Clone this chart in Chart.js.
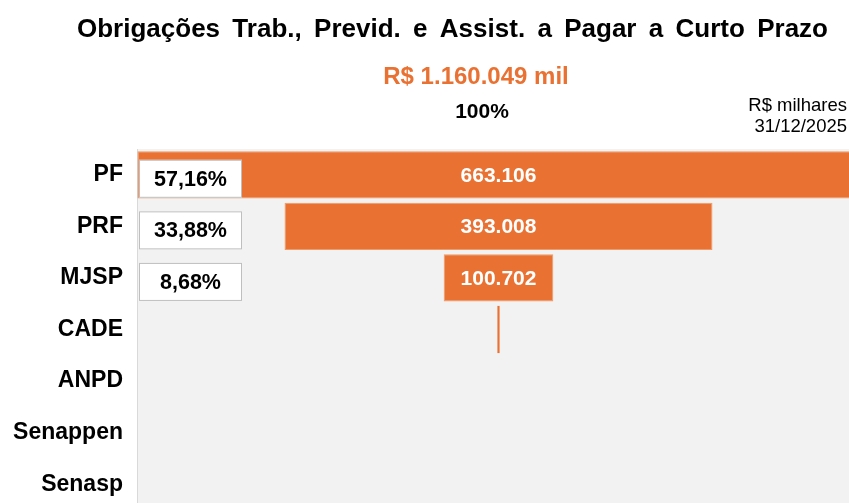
<!DOCTYPE html>
<html>
<head>
<meta charset="utf-8">
<script src="https://cdn.jsdelivr.net/npm/chart.js@4"></script>
<style>
  html, body { margin: 0; padding: 0; background: #fff; overflow: hidden; }
</style>
</head>
<body>
<canvas id="chart" width="849" height="510"></canvas>
<script>
const categories = ['PF', 'PRF', 'MJSP', 'CADE', 'ANPD', 'Senappen', 'Senasp'];
const values = [663106, 393008, 100702, 2000, 0, 0, 0];
const percentLabels = ['57,16%', '33,88%', '8,68%', '', '', '', ''];
const totalValue = 1160049;
const titleText = 'Obrigações Trab., Previd. e Assist. a Pagar a Curto Prazo';
const unitText = 'R$ milhares';
const dateText = '31/12/2025';

const FONT = "'Liberation Sans', Arial, sans-serif";
const ORANGE = '#e97132';

function fmt(n) {
  return String(n).replace(/\B(?=(\d{3})+(?!\d))/g, '.');
}

// centred (funnel) bars: each one runs from -v/2 to +v/2
const floating = values.map(v => [-v / 2, v / 2]);

// title is spread out word by word over a fixed width, like the original
function spreadText(ctx, text, x, y, width) {
  const words = text.split(' ');
  const widths = words.map(w => ctx.measureText(w).width);
  const used = widths.reduce((s, w) => s + w, 0);
  const gap = (width - used) / (words.length - 1);
  let cx = x;
  ctx.textAlign = 'left';
  words.forEach((w, i) => {
    ctx.fillText(w, cx, y);
    cx += widths[i] + gap;
  });
}

const decor = {
  id: 'decor',
  beforeDraw(chart) {
    const { ctx, chartArea: a } = chart;
    ctx.save();
    ctx.fillStyle = '#f2f2f2';
    ctx.fillRect(a.left, a.top, a.right - a.left, a.bottom - a.top);
    ctx.restore();
  },
  afterDatasetsDraw(chart) {
    const { ctx, chartArea: a } = chart;
    const meta = chart.getDatasetMeta(0);
    ctx.save();
    meta.data.forEach((el, i) => {
      if (!percentLabels[i]) return;
      // value in the middle of the bar
      ctx.fillStyle = '#fff';
      ctx.font = 'bold 21px ' + FONT;
      ctx.textAlign = 'center';
      ctx.textBaseline = 'middle';
      ctx.fillText(fmt(values[i]), (el.x + el.base) / 2, el.y + 1);
      // percentage box at the left
      const bx = a.left + 2, by = el.y - 15, bw = 103, bh = 38;
      ctx.fillStyle = '#fff';
      ctx.fillRect(bx, by, bw, bh);
      ctx.strokeStyle = '#bfbfbf';
      ctx.lineWidth = 1;
      ctx.strokeRect(bx + 0.5, by + 0.5, bw - 1, bh - 1);
      ctx.fillStyle = '#000';
      ctx.font = 'bold 21.5px ' + FONT;
      ctx.fillText(percentLabels[i], bx + bw / 2, by + bh / 2 + 1);
    });
    ctx.restore();
  },
  afterDraw(chart) {
    const { ctx } = chart;
    ctx.save();
    ctx.textBaseline = 'middle';
    ctx.fillStyle = '#000';
    ctx.font = 'bold 26px ' + FONT;
    spreadText(ctx, titleText, 77, 30, 751);
    ctx.textAlign = 'center';
    ctx.fillStyle = ORANGE;
    ctx.font = 'bold 24px ' + FONT;
    ctx.fillText('R$ ' + fmt(totalValue) + ' mil', 476, 77);
    ctx.fillStyle = '#000';
    ctx.font = 'bold 21px ' + FONT;
    ctx.fillText('100%', 482, 112);
    ctx.textAlign = 'right';
    ctx.font = '18.5px ' + FONT;
    ctx.fillText(unitText, 847, 106);
    ctx.fillText(dateText, 847, 127);
    ctx.restore();
  }
};

const ctx = document.getElementById('chart').getContext('2d');
const myChart = new Chart(ctx, {
  type: 'bar',
  data: {
    labels: categories,
    datasets: [{
      data: floating,
      backgroundColor: ORANGE,
      borderColor: '#f09a68',
      borderWidth: c => (values[c.dataIndex] < 10000 ? 0 : 1),
      borderSkipped: false,
      barPercentage: 0.915,
      categoryPercentage: 1
    }]
  },
  options: {
    indexAxis: 'y',
    responsive: false,
    animation: false,
    layout: { padding: { top: 149, right: 0, bottom: 0, left: 0 } },
    plugins: {
      legend: { display: false },
      tooltip: { enabled: false }
    },
    scales: {
      x: {
        display: false,
        min: -331965,
        max: 321866
      },
      y: {
        grid: { color: 'transparent', drawTicks: false },
        border: { display: true, color: '#d9d9d9', width: 1 },
        ticks: {
          color: '#000',
          padding: 14,
          font: { family: FONT, size: 23, weight: 'bold' }
        },
        afterFit(scale) {
          scale.width = 137;
          scale.paddingTop = 0;
          scale.paddingBottom = 0;
        }
      }
    }
  },
  plugins: [decor]
});
</script>
</body>
</html>
